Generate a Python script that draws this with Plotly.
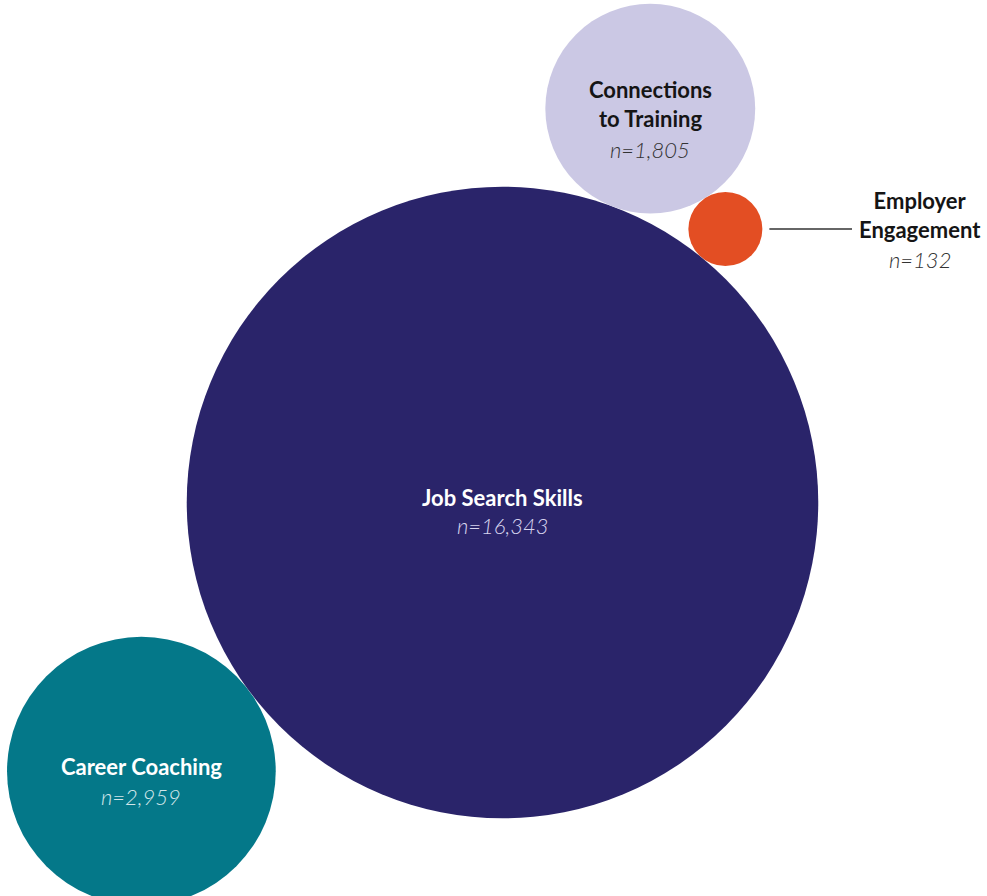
import math
import plotly.graph_objects as go

# Service categories and participant counts
categories = ["Job Search Skills", "Career Coaching", "Connections to Training", "Employer Engagement"]
counts = [16343, 2959, 1805, 132]
title_lines = ["Job Search Skills", "Career Coaching", "Connections<br>to Training", "Employer<br>Engagement"]

# Styling
fill_colors = ["#2A246A", "#047889", "#CBC8E4", "#E34E23"]
title_colors = ["#FFFFFF", "#FFFFFF", "#151515", "#151515"]
count_colors = ["#D6D3EE", "#D2E6E9", "#333333", "#333333"]

W, H = 987, 896
K = 2.47            # radius (px) per sqrt(count)
MIN_R = 37          # smallest bubble radius in px

def radius(v):
    return max(K * math.sqrt(v), MIN_R)

radii = [radius(v) for v in counts]

# Packing: biggest bubble anchored, others placed tangent to it
big = (502.5, 502.5)

def tangent_at(direction, r_other):
    dx, dy = direction
    L = math.hypot(dx, dy)
    d = radii[0] + r_other
    return (big[0] + dx / L * d, big[1] + dy / L * d)

c_cc = tangent_at((-359.5, 267.5), radii[1])
c_ct = tangent_at((146.5, -390.5), radii[2])

# Employer Engagement bubble touches both the big bubble and Connections to Training
def touching(c1, r1, c2, r2, r, pick_right=True):
    a, b = r1 + r, r2 + r
    dx, dy = c2[0] - c1[0], c2[1] - c1[1]
    d = math.hypot(dx, dy)
    t = (a * a - b * b + d * d) / (2 * d)
    h = math.sqrt(max(a * a - t * t, 0))
    px, py = c1[0] + dx * t / d, c1[1] + dy * t / d
    s1 = (px - dy * h / d, py + dx * h / d)
    s2 = (px + dy * h / d, py - dx * h / d)
    return s1 if (s1[0] > s2[0]) == pick_right else s2

c_ee = touching(big, radii[0], c_ct, radii[2], radii[3])
centers = [big, c_cc, c_ct, c_ee]

fig = go.Figure()
fig.add_trace(go.Scatter(
    x=[c[0] for c in centers],
    y=[c[1] for c in centers],
    mode="markers",
    marker=dict(
        size=counts,
        sizemode="area",
        sizeref=1.0 / (2 * K * K),
        sizemin=MIN_R,
        color=fill_colors,
        opacity=1,
        line=dict(width=0),
    ),
    hoverinfo="skip",
    showlegend=False,
    cliponaxis=True,
))

FONT = "Lato, 'Open Sans', sans-serif"

def add_label(x, y_title, y_count, title, n, tcol, ncol):
    fig.add_annotation(
        x=x, y=y_title, xref="x", yref="y",
        text=f"<b>{title}</b>",
        showarrow=False, xanchor="center", yanchor="middle",
        font=dict(family=FONT, size=22, color=tcol),
    )
    fig.add_annotation(
        x=x, y=y_count, xref="x", yref="y",
        text=f"<i>n={n:,}</i>",
        showarrow=False, xanchor="center", yanchor="middle",
        font=dict(family=FONT, size=22, color=ncol, weight=300),
    )

# Labels inside the three larger bubbles (title offset, count offset from centre)
offsets = [(-5, 23), (-4.5, 25.5), (-4.5, 40.5)]
for i in range(3):
    cx, cy = centers[i]
    ot, on = offsets[i]
    add_label(cx, cy + ot, cy + on, title_lines[i], counts[i], title_colors[i], count_colors[i])

# Employer Engagement: leader line and label to the right
ex, ey = centers[3]
fig.add_shape(type="line", x0=ex + radii[3] + 7, x1=852, y0=ey, y1=ey,
              xref="x", yref="y", line=dict(color="#333333", width=1.5))
add_label(920, ey - 14, ey + 30, title_lines[3], counts[3], title_colors[3], count_colors[3])

fig.update_layout(
    width=W, height=H,
    margin=dict(l=0, r=0, t=0, b=0),
    paper_bgcolor="white", plot_bgcolor="white",
    xaxis=dict(range=[0, W], visible=False, fixedrange=True),
    yaxis=dict(range=[H, 0], visible=False, fixedrange=True),
    hovermode=False,
)

fig.write_html("out.html", config={"displayModeBar": False})
